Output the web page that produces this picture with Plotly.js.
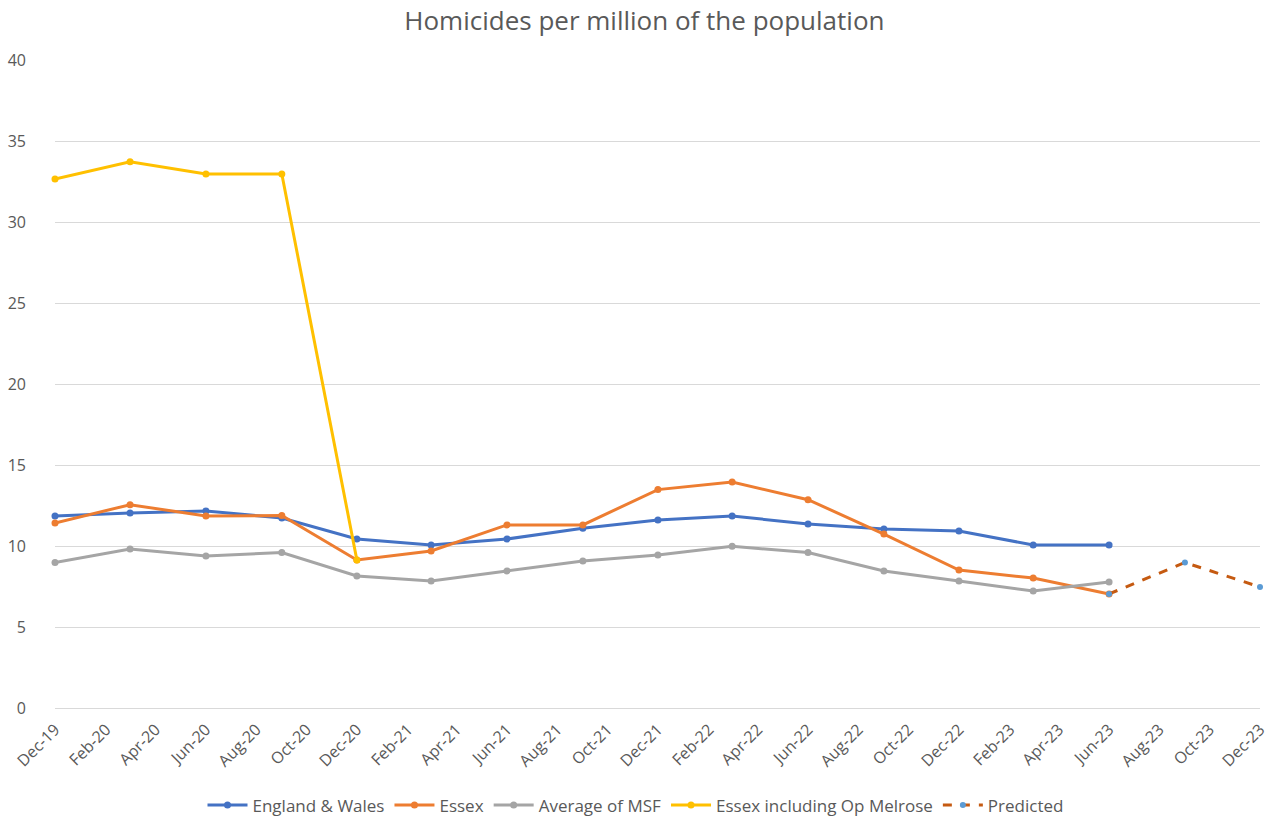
<!DOCTYPE html>
<html>
<head>
<meta charset="utf-8">
<script src="https://cdn.plot.ly/plotly-3.0.1.min.js"></script>
<style>html,body{margin:0;padding:0;background:#fff;}#chart{width:1271px;height:816px;}</style>
</head>
<body>
<div id="chart"></div>
<script>
const quarters = ["2019-12-01","2020-03-01","2020-06-01","2020-09-01","2020-12-01","2021-03-01","2021-06-01","2021-09-01","2021-12-01","2022-03-01","2022-06-01","2022-09-01","2022-12-01","2023-03-01","2023-06-01"];
const englandWales = [11.85,12.04,12.16,11.73,10.43,10.06,10.43,11.1,11.6,11.85,11.36,11.05,10.93,10.06,10.06];
const essex = [11.42,12.55,11.85,11.88,9.14,9.69,11.3,11.3,13.48,13.95,12.86,10.74,8.52,8.02,7.04];
const msf = [8.98,9.82,9.38,9.6,8.15,7.84,8.46,9.07,9.44,9.98,9.6,8.46,7.84,7.22,7.78];
const melroseDates = ["2019-12-01","2020-03-01","2020-06-01","2020-09-01","2020-12-01"];
const essexMelrose = [32.65,33.72,32.97,32.97,9.14];
const predictedDates = ["2023-06-01","2023-09-01","2023-12-01"];
const predicted = [7.04,8.98,7.47];

const lineW = 3, mk = 7;
const traces = [
  {x: quarters, y: englandWales, name: "England & Wales", mode: "lines+markers", cliponaxis: false, line: {color: "#4472C4", width: lineW}, marker: {color: "#4472C4", size: mk}},
  {x: quarters, y: essex, name: "Essex", mode: "lines+markers", cliponaxis: false, line: {color: "#ED7D31", width: lineW}, marker: {color: "#ED7D31", size: mk}},
  {x: quarters, y: msf, name: "Average of MSF", mode: "lines+markers", cliponaxis: false, line: {color: "#A5A5A5", width: lineW}, marker: {color: "#A5A5A5", size: mk}},
  {x: melroseDates, y: essexMelrose, name: "Essex including Op Melrose", mode: "lines+markers", cliponaxis: false, line: {color: "#FFC000", width: lineW}, marker: {color: "#FFC000", size: mk}},
  {x: predictedDates, y: predicted, name: "Predicted", mode: "lines+markers", cliponaxis: false, line: {color: "#C55A11", width: lineW, dash: "dash"}, marker: {color: "#5B9BD5", size: 6}}
];

const layout = {
  width: 1271, height: 816,
  margin: {l: 55, r: 11, t: 60, b: 108},
  paper_bgcolor: "#fff", plot_bgcolor: "#fff",
  font: {family: "Open Sans, sans-serif", color: "#595959", size: 16},
  title: {text: "Homicides per million of the population", font: {size: 26, color: "#595959"}, x: 0.507, xanchor: "center", xref: "container", y: 0.975, yanchor: "middle"},
  xaxis: {
    type: "date", range: ["2019-12-01", "2023-12-01"], automargin: false,
    tickmode: "linear", tick0: "2019-12-01", dtick: "M2", tickformat: "%b-%y",
    tickangle: -45, showgrid: false, showline: true, linecolor: "#D9D9D9", linewidth: 1,
    ticks: "", ticklabelstandoff: 5, zeroline: false, tickfont: {size: 16, color: "#595959"}
  },
  yaxis: {
    range: [0, 40], tickmode: "linear", tick0: 0, dtick: 5, automargin: false,
    showgrid: true, gridcolor: "#D9D9D9", gridwidth: 1, zeroline: false,
    showline: false, ticks: "", ticklabelstandoff: 28, tickfont: {size: 16, color: "#595959"}
  },
  showlegend: true,
  legend: {orientation: "h", x: 0.5, xanchor: "center", xref: "container", y: 0.013, yanchor: "middle", yref: "container", font: {size: 17, color: "#595959"}, itemwidth: 40, tracegroupgap: 0},
  hovermode: false
};

Plotly.newPlot("chart", traces, layout, {displayModeBar: false, staticPlot: true});
</script>
</body>
</html>
